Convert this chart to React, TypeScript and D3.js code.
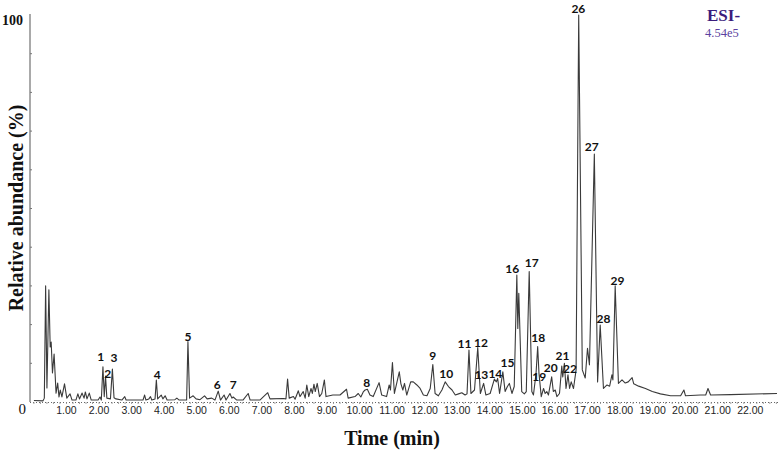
import React from "react";
import * as d3 from "d3";

// retention time (min) and relative abundance (%)
const times = [
  0.00, 0.28, 0.32, 0.36, 0.40, 0.46, 0.50, 0.53, 0.57, 0.62, 0.68, 0.73, 0.77, 0.81, 0.86, 0.94, 1.01, 1.11, 1.17, 1.29,
  1.35, 1.40, 1.48, 1.54, 1.58, 1.63, 1.70, 1.76, 1.97, 2.03, 2.07, 2.12, 2.16, 2.20, 2.24, 2.35, 2.41, 2.46, 2.52, 2.70,
  2.79, 2.83, 3.35, 3.40, 3.44, 3.53, 3.58, 3.62, 3.72, 3.76, 3.80, 3.91, 3.96, 4.03, 4.09, 4.33, 4.39, 4.46, 4.69, 4.73,
  4.78, 4.89, 4.98, 5.10, 5.24, 5.32, 5.46, 5.56, 5.66, 5.73, 5.84, 5.90, 6.02, 6.08, 6.12, 6.23, 6.42, 6.58, 6.64, 6.94,
  7.18, 7.25, 7.65, 7.74, 7.79, 7.84, 7.97, 8.02, 8.12, 8.17, 8.27, 8.33, 8.38, 8.44, 8.51, 8.55, 8.60, 8.64, 8.70, 8.77,
  8.84, 8.92, 8.97, 9.18, 9.40, 9.60, 9.65, 9.86, 9.96, 10.04, 10.12, 10.17, 10.24, 10.32, 10.42, 10.60, 10.68, 10.83, 10.91, 10.95,
  11.01, 11.07, 11.14, 11.22, 11.27, 11.33, 11.38, 11.45, 11.57, 11.65, 11.76, 11.86, 11.96, 12.07, 12.17, 12.25, 12.32, 12.42, 12.53, 12.63,
  12.73, 12.84, 12.94, 13.04, 13.14, 13.24, 13.30, 13.36, 13.42, 13.53, 13.63, 13.71, 13.81, 13.88, 14.01, 14.14, 14.20, 14.24, 14.30, 14.40,
  14.47, 14.54, 14.60, 14.68, 14.75, 14.83, 14.86, 14.89, 14.98, 15.06, 15.12, 15.21, 15.29, 15.34, 15.42, 15.47, 15.51, 15.58, 15.65, 15.70,
  15.75, 15.80, 15.90, 15.95, 16.01, 16.06, 16.14, 16.21, 16.24, 16.29, 16.34, 16.40, 16.45, 16.50, 16.57, 16.65, 16.73, 16.84, 16.93, 17.00,
  17.06, 17.21, 17.31, 17.39, 17.49, 17.60, 17.68, 17.75, 17.78, 17.85, 17.95, 18.06, 18.16, 18.25, 18.37, 18.42, 18.57, 18.78, 18.99, 19.24,
  19.55, 19.86, 19.96, 20.01, 20.47, 20.63, 20.70, 20.78, 21.39, 22.82,
];
const abundance = [
  0.4, 0.3, 1.0, 30.0, 3.6, 29.0, 14.2, 15.5, 7.5, 12.4, 2.3, 4.9, 1.3, 3.1, 1.3, 4.7, 1.0, 2.1, 0.5, 0.5,
  2.1, 0.8, 2.3, 1.0, 2.6, 0.8, 2.3, 0.5, 0.5, 1.3, 0.5, 9.1, 1.4, 6.7, 1.0, 0.8, 8.5, 1.1, 0.8, 0.5,
  1.4, 0.5, 0.5, 1.8, 0.5, 0.8, 1.4, 0.5, 0.8, 5.7, 0.8, 1.8, 0.8, 1.6, 0.5, 0.6, 1.0, 0.5, 0.5, 15.6,
  1.0, 1.6, 0.8, 0.6, 1.6, 0.8, 1.0, 0.5, 2.8, 0.5, 1.8, 0.5, 2.2, 1.0, 1.3, 0.5, 0.5, 2.2, 0.5, 0.5,
  2.4, 0.8, 0.9, 0.8, 5.9, 1.0, 1.4, 0.7, 2.9, 1.4, 2.7, 1.0, 4.4, 1.4, 3.5, 2.2, 4.6, 2.7, 4.8, 1.4,
  2.2, 5.7, 1.4, 1.8, 1.8, 3.3, 1.0, 1.4, 2.2, 1.3, 2.7, 3.1, 3.3, 1.8, 1.4, 5.0, 1.8, 1.4, 4.4, 3.1,
  10.2, 2.2, 4.8, 7.8, 4.7, 3.1, 4.8, 1.8, 5.2, 5.2, 4.4, 3.5, 1.8, 1.6, 3.5, 9.7, 2.2, 1.6, 3.1, 5.2,
  4.0, 3.1, 1.8, 2.1, 2.4, 1.8, 2.1, 13.4, 2.2, 3.1, 14.1, 2.2, 4.8, 1.8, 2.2, 5.9, 5.2, 6.1, 2.2, 7.8,
  2.7, 4.0, 4.8, 2.2, 4.0, 32.8, 19.0, 28.1, 2.7, 2.1, 2.7, 33.7, 2.7, 1.8, 7.4, 14.3, 7.4, 1.4, 3.5, 2.2,
  2.7, 1.8, 6.5, 2.7, 3.1, 1.4, 2.2, 9.3, 6.5, 10.0, 3.5, 7.0, 3.5, 5.2, 3.5, 8.3, 100, 8.3, 6.2, 13.9,
  9.6, 64.1, 5.2, 19.9, 3.5, 4.4, 4.1, 7.0, 5.7, 30.0, 4.8, 5.7, 4.9, 5.2, 6.3, 4.7, 4.1, 3.5, 2.7, 2.1,
  1.6, 1.6, 3.1, 1.6, 1.8, 1.8, 3.5, 1.8, 1.9, 2.2,
];

// peak numbers with the time / abundance where each label sits
const peakNames = ["1", "2", "3", "4", "5", "6", "7", "8", "9", "10", "11", "12", "13", "14", "15",
  "16", "17", "18", "19", "20", "21", "22", "26", "27", "28", "29"];
const peakTimes = [2.05, 2.27, 2.46, 3.79, 4.73, 5.63, 6.12, 10.22, 12.25, 12.66, 13.22, 13.73, 13.74, 14.17, 14.54,
  14.69, 15.29, 15.49, 15.52, 15.87, 16.23, 16.46, 16.72, 17.13, 17.49, 17.92];
const peakLevels = [11.7, 7.4, 11.4, 7.2, 16.9, 4.4, 4.4, 5.1, 12.1, 7.4, 15.0, 15.4, 7.2, 7.4, 10.2,
  34.4, 36.0, 16.6, 6.5, 9.0, 12.1, 8.7, 101.8, 66.0, 21.6, 31.5];

const xTicks = [1, 2, 3, 4, 5, 6, 7, 8, 9, 10, 11, 12, 13, 14, 15, 16, 17, 18, 19, 20, 21, 22];

export default function App() {
  const width = 778;
  const height = 450;
  const x = d3.scaleLinear([-0.12, 22.85], [30, 778]);
  const y = d3.scaleLinear([0, 100], [402, 15]);

  const pts: [number, number][] = times.map((t, i) => [t, abundance[i]]);
  const line = d3.line<[number, number]>()
    .x(d => x(d[0]))
    .y(d => y(d[1]));

  const minorTicks = d3.range(0, 22.85, 0.2);

  return (
    <svg width={width} height={height} style={{position: "absolute", left: 0, top: 0, background: "#fff"}}>
      {/* y axis */}
      <line x1={30} x2={30} y1={14} y2={402} stroke="#555" strokeWidth={1} />
      {d3.range(10, 100, 10).map(v => (
        <line key={v} x1={30} x2={32} y1={y(v)} y2={y(v)} stroke="#777" strokeWidth={1} />
      ))}
      <text x={23} y={25} textAnchor="end" fontFamily="Liberation Serif, serif" fontWeight="bold" fontSize={14} fill="#111">100</text>
      <text x={26} y={414} textAnchor="end" fontFamily="Liberation Serif, serif" fontSize={15} fill="#111">0</text>
      <text transform="translate(23,208) rotate(-90)" textAnchor="middle" fontFamily="Liberation Serif, serif"
        fontWeight="bold" fontSize={20} fill="#111">Relative abundance (%)</text>

      {/* x axis */}
      <line x1={30} x2={778} y1={402.5} y2={402.5} stroke="#666" strokeWidth={1} strokeDasharray="1,2" />
      {minorTicks.map((t, i) => (
        <line key={i} x1={x(t)} x2={x(t)} y1={402} y2={404} stroke="#888" strokeWidth={0.8} />
      ))}
      {xTicks.map(t => (
        <text key={t} x={x(t)} y={414} textAnchor="middle" fontFamily="Liberation Sans, Arial, sans-serif"
          fontSize={10.5} fill="#222">{t.toFixed(2)}</text>
      ))}
      <text x={392} y={445} textAnchor="middle" fontFamily="Liberation Serif, serif" fontWeight="bold"
        fontSize={20} fill="#111">Time (min)</text>

      {/* trace */}
      <path d={line(pts) ?? ""} fill="none" stroke="#3a3a3a" strokeWidth={1.1} strokeLinejoin="round" />

      {/* peak labels */}
      {peakNames.map((n, i) => (
        <text key={n} x={x(peakTimes[i])} y={y(peakLevels[i]) + 4.5} textAnchor="middle"
          fontFamily="Lato, Open Sans, sans-serif" fontWeight="bold" fontSize={12} fill="#111">{n}</text>
      ))}

      {/* ionisation mode */}
      <text x={707} y={21} fontFamily="Liberation Serif, serif" fontWeight="bold" fontSize={17} fill="#3b1c7c">ESI-</text>
      <text x={705} y={37} fontFamily="Liberation Serif, serif" fontSize={12.5} fill="#5b3fa0">4.54e5</text>
    </svg>
  );
}
